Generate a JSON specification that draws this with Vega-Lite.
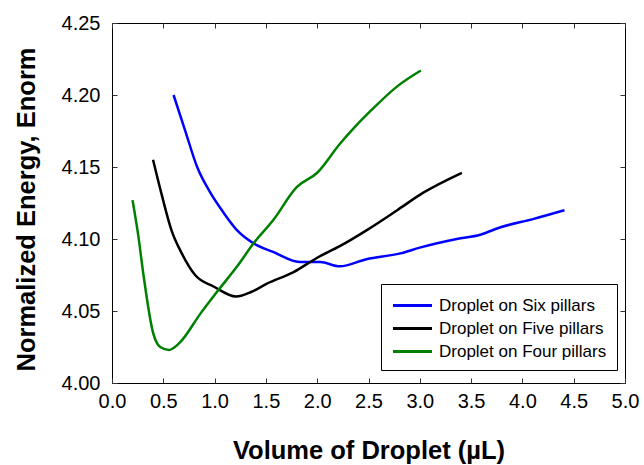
{
  "$schema": "https://vega.github.io/schema/vega-lite/v6.json",
  "autosize": {"type": "none"},
  "padding": {"left": 112, "top": 23, "right": 19, "bottom": 82},
  "width": 513,
  "height": 360,
  "background": "white",
  "config": {
    "view": {"stroke": "#000000", "strokeWidth": 1},
    "font": "Liberation Sans",
    "axis": {
      "grid": false,
      "domain": false,
      "tickColor": "#333333",
      "tickSize": -5,
      "labelFont": "Liberation Sans",
      "labelFontSize": 20,
      "labelColor": "#000000",
      "titleFont": "Liberation Sans",
      "titleFontSize": 25.5,
      "titleFontWeight": "bold",
      "titleColor": "#000000"
    }
  },
  "resolve": {"axis": {"x": "independent", "y": "independent"}},
  "data": {
    "values": [
      {"s": "Droplet on Six pillars", "v": 0.60, "e": 4.200},
      {"s": "Droplet on Six pillars", "v": 0.71, "e": 4.176},
      {"s": "Droplet on Six pillars", "v": 0.83, "e": 4.150},
      {"s": "Droplet on Six pillars", "v": 0.96, "e": 4.132},
      {"s": "Droplet on Six pillars", "v": 1.09, "e": 4.118},
      {"s": "Droplet on Six pillars", "v": 1.22, "e": 4.106},
      {"s": "Droplet on Six pillars", "v": 1.38, "e": 4.097},
      {"s": "Droplet on Six pillars", "v": 1.57, "e": 4.091},
      {"s": "Droplet on Six pillars", "v": 1.83, "e": 4.084},
      {"s": "Droplet on Six pillars", "v": 2.03, "e": 4.084},
      {"s": "Droplet on Six pillars", "v": 2.22, "e": 4.081},
      {"s": "Droplet on Six pillars", "v": 2.48, "e": 4.086},
      {"s": "Droplet on Six pillars", "v": 2.81, "e": 4.090},
      {"s": "Droplet on Six pillars", "v": 3.00, "e": 4.094},
      {"s": "Droplet on Six pillars", "v": 3.36, "e": 4.100},
      {"s": "Droplet on Six pillars", "v": 3.59, "e": 4.103},
      {"s": "Droplet on Six pillars", "v": 3.78, "e": 4.108},
      {"s": "Droplet on Six pillars", "v": 4.11, "e": 4.114},
      {"s": "Droplet on Six pillars", "v": 4.41, "e": 4.120},
      {"s": "Droplet on Five pillars", "v": 0.40, "e": 4.155},
      {"s": "Droplet on Five pillars", "v": 0.48, "e": 4.132},
      {"s": "Droplet on Five pillars", "v": 0.58, "e": 4.106},
      {"s": "Droplet on Five pillars", "v": 0.68, "e": 4.090},
      {"s": "Droplet on Five pillars", "v": 0.81, "e": 4.075},
      {"s": "Droplet on Five pillars", "v": 0.99, "e": 4.067},
      {"s": "Droplet on Five pillars", "v": 1.21, "e": 4.060},
      {"s": "Droplet on Five pillars", "v": 1.35, "e": 4.063},
      {"s": "Droplet on Five pillars", "v": 1.51, "e": 4.069},
      {"s": "Droplet on Five pillars", "v": 1.77, "e": 4.077},
      {"s": "Droplet on Five pillars", "v": 2.00, "e": 4.087},
      {"s": "Droplet on Five pillars", "v": 2.22, "e": 4.095},
      {"s": "Droplet on Five pillars", "v": 2.48, "e": 4.106},
      {"s": "Droplet on Five pillars", "v": 2.78, "e": 4.120},
      {"s": "Droplet on Five pillars", "v": 3.03, "e": 4.132},
      {"s": "Droplet on Five pillars", "v": 3.41, "e": 4.146},
      {"s": "Droplet on Four pillars", "v": 0.20, "e": 4.127},
      {"s": "Droplet on Four pillars", "v": 0.257, "e": 4.102},
      {"s": "Droplet on Four pillars", "v": 0.305, "e": 4.076},
      {"s": "Droplet on Four pillars", "v": 0.40, "e": 4.035},
      {"s": "Droplet on Four pillars", "v": 0.47, "e": 4.025},
      {"s": "Droplet on Four pillars", "v": 0.556, "e": 4.023},
      {"s": "Droplet on Four pillars", "v": 0.66, "e": 4.028},
      {"s": "Droplet on Four pillars", "v": 0.86, "e": 4.048},
      {"s": "Droplet on Four pillars", "v": 1.02, "e": 4.063},
      {"s": "Droplet on Four pillars", "v": 1.22, "e": 4.081},
      {"s": "Droplet on Four pillars", "v": 1.38, "e": 4.097},
      {"s": "Droplet on Four pillars", "v": 1.57, "e": 4.113},
      {"s": "Droplet on Four pillars", "v": 1.80, "e": 4.136},
      {"s": "Droplet on Four pillars", "v": 2.00, "e": 4.146},
      {"s": "Droplet on Four pillars", "v": 2.22, "e": 4.166},
      {"s": "Droplet on Four pillars", "v": 2.37, "e": 4.178},
      {"s": "Droplet on Four pillars", "v": 2.55, "e": 4.191},
      {"s": "Droplet on Four pillars", "v": 2.78, "e": 4.206},
      {"s": "Droplet on Four pillars", "v": 3.01, "e": 4.217}
    ]
  },
  "layer": [
    {
      "mark": {"type": "line", "strokeWidth": 2.5, "interpolate": "monotone"},
      "encoding": {
        "x": {
          "field": "v", "type": "quantitative",
          "scale": {"domain": [0, 5], "nice": false},
          "axis": {"values": [0, 0.5, 1, 1.5, 2, 2.5, 3, 3.5, 4, 4.5, 5], "format": ".1f", "labelPadding": 13, "title": "Volume of Droplet (µL)", "titlePadding": 27, "labelFlush": false}
        },
        "y": {
          "field": "e", "type": "quantitative",
          "scale": {"domain": [4.0, 4.25], "nice": false, "zero": false},
          "axis": {"values": [4.0, 4.05, 4.1, 4.15, 4.2, 4.25], "format": ".2f", "labelPadding": 17, "title": "Normalized Energy, Enorm", "titlePadding": 22, "titleY": 186, "labelFlush": false}
        },
        "color": {
          "field": "s", "type": "nominal",
          "scale": {"domain": ["Droplet on Six pillars", "Droplet on Five pillars", "Droplet on Four pillars"], "range": ["#0000FF", "#000000", "#008000"]},
          "legend": {
            "title": null,
            "orient": "none",
            "legendX": 269,
            "legendY": 261,
            "symbolType": "M-2,0L2,0",
            "symbolStrokeWidth": 3,
            "symbolSize": 380,
            "symbolOffset": 10,
            "labelFontSize": 17,
            "labelFont": "Liberation Sans",
            "labelColor": "#000000",
            "labelOffset": 15,
            "rowPadding": 3,
            "padding": 10,
            "strokeColor": "#000000",
            "fillColor": "#ffffff",
            "labelLimit": 300
          }
        }
      }
    },
    {
      "mark": {"type": "line", "opacity": 0},
      "encoding": {
        "x": {"field": "v", "type": "quantitative", "axis": {"orient": "top", "values": [0, 0.5, 1, 1.5, 2, 2.5, 3, 3.5, 4, 4.5, 5], "labels": false, "title": null}},
        "y": {"field": "e", "type": "quantitative", "axis": {"orient": "right", "values": [4.0, 4.05, 4.1, 4.15, 4.2, 4.25], "labels": false, "title": null}}
      }
    }
  ]
}
